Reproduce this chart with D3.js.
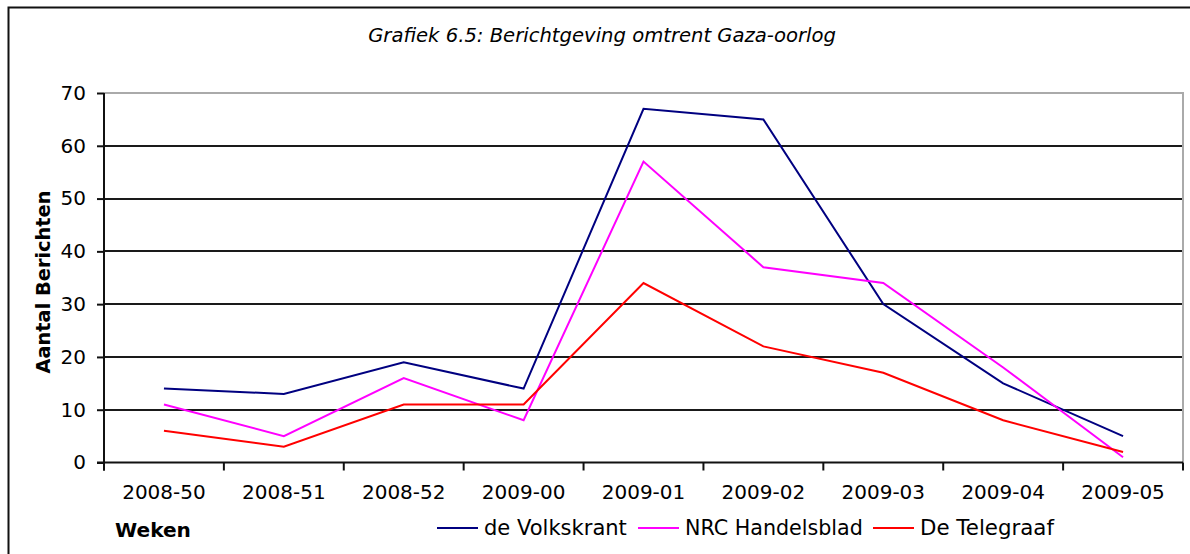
<!DOCTYPE html>
<html><head><meta charset="utf-8">
<script src="https://cdn.jsdelivr.net/npm/d3@7"></script>
<style>body{margin:0;background:#fff}svg{display:block}text{font-family:"DejaVu Sans",Verdana,sans-serif;fill:#000}</style>
</head><body>
<script>
const weeks = ["2008-50","2008-51","2008-52","2009-00","2009-01","2009-02","2009-03","2009-04","2009-05"];
const volkskrant = [14,13,19,14,67,65,30,15,5];
const nrc = [11,5,16,8,57,37,34,18,1];
const telegraaf = [6,3,11,11,34,22,17,8,2];
const seriesNames = ["de Volkskrant","NRC Handelsblad","De Telegraaf"];
const seriesColors = ["#000080","#FF00FF","#FF0000"];
const yTicks = [0,10,20,30,40,50,60,70];
const title = "Grafiek 6.5: Berichtgeving omtrent Gaza-oorlog";

const W=1190,H=554;
const svg=d3.select("body").append("svg").attr("width",W).attr("height",H);
const m={l:104,r:1183,t:93,b:462.5};
const x=d3.scaleBand().domain(weeks).range([m.l,m.r]).padding(0);
const y=d3.scaleLinear().domain([0,70]).range([m.b,m.t]);

function fit(sel,w){const n=sel.node();const L=n.getComputedTextLength();const fs=parseFloat(sel.attr("font-size"));sel.attr("font-size",fs*w/L);}

// outer border
svg.append("path").attr("d",`M8.5,${H} V7.5 H${W}`).attr("fill","none").attr("stroke","#111").attr("stroke-width",2);

// title
const t=svg.append("text").attr("x",602).attr("y",42).attr("text-anchor","middle").attr("font-style","italic").attr("font-size",17).text(title);
fit(t,468);

// grid
svg.append("g").selectAll("line").data(yTicks.filter(d=>d>0&&d<70)).join("line")
 .attr("x1",m.l).attr("x2",m.r).attr("y1",d=>Math.round(y(d))).attr("y2",d=>Math.round(y(d)))
 .attr("stroke","#1a1a1a").attr("stroke-width",2);
// plot border top/right gray
svg.append("path").attr("d",`M${m.l},${y(70)} H${m.r} V${m.b}`).attr("fill","none").attr("stroke","#aaa").attr("stroke-width",2);

// axes
const yAxis=svg.append("g").attr("transform",`translate(${m.l},0)`).call(d3.axisLeft(y).tickValues(yTicks).tickSize(7).tickPadding(11));
const xAxis=svg.append("g").attr("transform",`translate(0,${m.b})`).call(d3.axisBottom(x).tickSize(0).tickPadding(22));
// x tick marks at band boundaries
svg.append("g").selectAll("line").data(weeks.map(w=>x(w)).concat([m.r])).join("line")
 .attr("x1",d=>d).attr("x2",d=>d).attr("y1",m.b).attr("y2",m.b+8).attr("stroke","#111").attr("stroke-width",2);
[yAxis,xAxis].forEach(a=>{a.selectAll(".domain").attr("stroke","#111").attr("stroke-width",2);a.selectAll(".tick line").attr("stroke","#111").attr("stroke-width",2);
 a.selectAll("text").attr("font-size",20).attr("font-family","DejaVu Sans").attr("fill","#111");});
yAxis.select(".domain").attr("d",`M0,${m.b+8}V${y(70)}`);
xAxis.select(".domain").attr("d",`M${m.l-7},0H${m.r}`);
xAxis.selectAll(".tick text").attr("dy","0.71em");

// lines
const line=d3.line().x((d,i)=>x(weeks[i])+x.bandwidth()/2).y(d=>y(d));
[volkskrant,nrc,telegraaf].forEach((s,i)=>{
 svg.append("path").datum(s).attr("d",line).attr("fill","none").attr("stroke",seriesColors[i]).attr("stroke-width",2);
});

// axis titles
const yt=svg.append("text").attr("transform","translate(50,282) rotate(-90)").attr("text-anchor","middle").attr("font-weight","bold").attr("font-size",18).text("Aantal Berichten");
fit(yt,183);
const wk=svg.append("text").attr("x",115).attr("y",537).attr("font-weight","bold").attr("font-size",18).text("Weken");
fit(wk,76);

// legend
const legX=[437,638,873], legTW=[143,178,134];
seriesNames.forEach((n,i)=>{
 svg.append("line").attr("x1",legX[i]).attr("x2",legX[i]+41).attr("y1",528).attr("y2",528).attr("stroke",seriesColors[i]).attr("stroke-width",2);
 const tx=svg.append("text").attr("x",legX[i]+47).attr("y",534.5).attr("font-size",18).text(n);
 fit(tx,legTW[i]);
});
</script>
</body></html>
